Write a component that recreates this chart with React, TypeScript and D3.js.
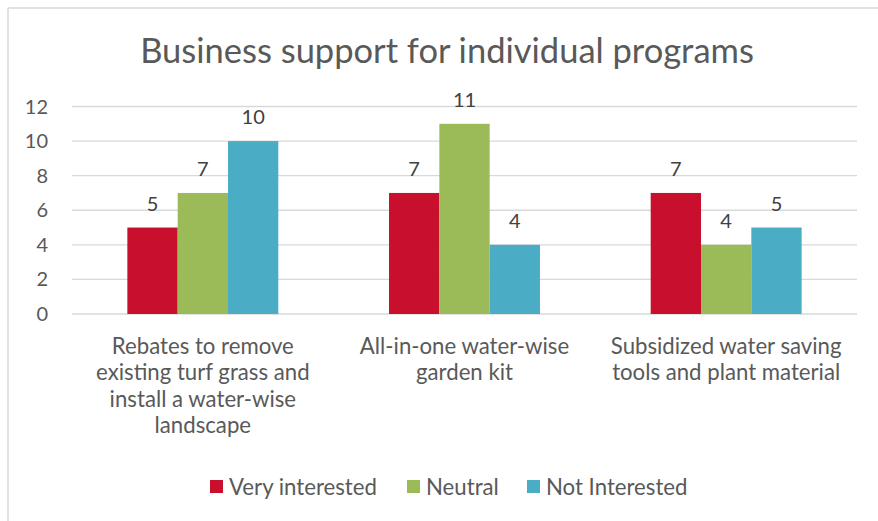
import React from "react";
import * as d3 from "d3";

const categories = [
  ["Rebates to remove", "existing turf grass and", "install a water-wise", "landscape"],
  ["All-in-one water-wise", "garden kit"],
  ["Subsidized water saving", "tools and plant material"],
];
const seriesNames = ["Very interested", "Neutral", "Not Interested"];
const veryInterested = [5, 7, 7];
const neutral = [7, 11, 4];
const notInterested = [10, 4, 5];
const yTicks = [0, 2, 4, 6, 8, 10, 12];
const colors = ["#C8102E", "#9BBB59", "#4BACC6"];

const W = 878;
const H = 521;
const FONT = "Lato, 'Open Sans', sans-serif";
const TEXT = "#595959";

export default function App() {
  const series = [veryInterested, neutral, notInterested];
  const catIdx = categories.map((_, i) => String(i));
  const x = d3.scaleBand().domain(catIdx).range([72, 857]).paddingInner(0).paddingOuter(0);
  const step = x.bandwidth();
  const barW = step / 5.2;
  const groupW = barW * 3;
  const xs = d3.scaleBand().domain(seriesNames).range([0, groupW]).padding(0);
  const y = d3.scaleLinear().domain([0, 12]).range([314, 106.5]);

  const legendX = [210, 407, 527];

  return (
    <svg
      width={W}
      height={H}
      style={{ position: "absolute", left: 0, top: 0, background: "#fff" }}
      fontFamily={FONT}
    >
      <rect x={0} y={0} width={W} height={H} fill="#fff" />
      <line x1={8} y1={8} x2={W} y2={8} stroke="#D9D9D9" strokeWidth={1.5} />
      <line x1={8} y1={8} x2={8} y2={H} stroke="#D9D9D9" strokeWidth={1.5} />
      <text x={447} y={63} textAnchor="middle" fontSize={34.5} fill={TEXT}>
        Business support for individual programs
      </text>
      {yTicks.map((t) => (
        <g key={t}>
          <line x1={72} x2={857} y1={y(t)} y2={y(t)} stroke="#D9D9D9" strokeWidth={1.3} />
          <text x={48} y={y(t) + 7} textAnchor="end" fontSize={20} fill={TEXT}>
            {t}
          </text>
        </g>
      ))}
      {catIdx.map((c, ci) => {
        const gx = (x(c) as number) + (step - groupW) / 2;
        return (
          <g key={c}>
            {series.map((s, si) => {
              const bx = gx + (xs(seriesNames[si]) as number);
              return (
                <g key={si}>
                  <rect
                    x={bx}
                    y={y(s[ci])}
                    width={xs.bandwidth()}
                    height={y(0) - y(s[ci])}
                    fill={colors[si]}
                  />
                  <text
                    x={bx + xs.bandwidth() / 2}
                    y={y(s[ci]) - 17}
                    textAnchor="middle"
                    fontSize={20}
                    fill="#404040"
                  >
                    {s[ci]}
                  </text>
                </g>
              );
            })}
            {categories[ci].map((line, li) => (
              <text
                key={li}
                x={(x(c) as number) + step / 2}
                y={354 + li * 26.3}
                textAnchor="middle"
                fontSize={22.2}
                fill={TEXT}
              >
                {line}
              </text>
            ))}
          </g>
        );
      })}
      {seriesNames.map((n, i) => (
        <g key={n}>
          <rect x={legendX[i]} y={480} width={13} height={13} fill={colors[i]} />
          <text x={legendX[i] + 19} y={495} fontSize={22.2} fill={TEXT}>
            {n}
          </text>
        </g>
      ))}
    </svg>
  );
}
